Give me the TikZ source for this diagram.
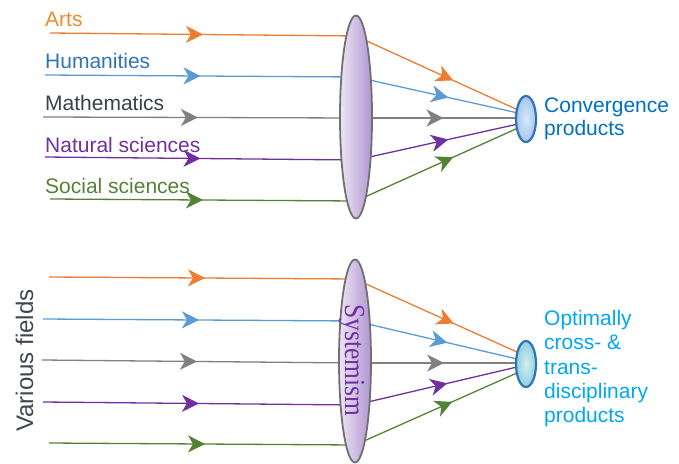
\documentclass[tikz,border=0pt]{standalone}
\usepackage{fontspec}
\setmainfont{Liberation Sans}
\newfontfamily\serifsys{Liberation Serif}
\usetikzlibrary{shapes.geometric,arrows.meta,decorations.markings}
\definecolor{cOr}{HTML}{ED7D31}
\definecolor{cBl}{HTML}{5B9BD5}
\definecolor{cGr}{HTML}{808080}
\definecolor{cPu}{HTML}{7030A0}
\definecolor{cGn}{HTML}{548235}
\definecolor{tArtsC}{HTML}{F08A2C}
\definecolor{tHumC}{HTML}{2E75B6}
\definecolor{tMathC}{HTML}{3B3F48}
\definecolor{tConv}{HTML}{0070C0}
\definecolor{tOpt}{HTML}{00A8EE}
\definecolor{tVar}{HTML}{3F4651}
\definecolor{lensL}{HTML}{EDE6F4}
\definecolor{lensR}{HTML}{B195D2}
\definecolor{lensEdge}{HTML}{707070}
\definecolor{smallEdge}{HTML}{2E75B6}
\definecolor{focusInA}{HTML}{D8E8FB}
\definecolor{focusOutA}{HTML}{A6C6EE}
\definecolor{focusInB}{HTML}{D2EFF3}
\definecolor{focusOutB}{HTML}{8ECFDD}
\tikzset{
  ray/.style={line width=1.3pt, postaction=decorate,
    decoration={markings, mark=at position #1 with {\arrow{Stealth[length=17pt,width=17pt,inset=5pt]}}}},
  lbl/.style={font=\fontsize{21}{23}\selectfont, inner sep=0pt, anchor=base west},
  biglens/.style={ellipse, minimum width=32pt, minimum height=203pt, inner sep=0pt,
    draw=lensEdge, line width=1.8pt, left color=lensL, right color=lensR},
  smalllens/.style={ellipse, minimum width=20pt, minimum height=46pt, inner sep=0pt,
    draw=smallEdge, line width=2.2pt},
}
\begin{document}
\begin{tikzpicture}[x=1pt,y=-1pt]
\useasboundingbox (0,0) rectangle (679,463);
% ---------- top ----------
\node[lbl, text=tArtsC] (tArts) at (45,26) {Arts};
\node[lbl, text=tHumC] (tHum) at (45,68) {Humanities};
\node[lbl, text=tMathC] (tMath) at (45,110) {Mathematics};
\node[lbl, text=cPu] (tNat) at (45,152) {Natural sciences};
\node[lbl, text=cGn] (tSoc) at (45,193) {Social sciences};

\coordinate (a1) at (50,33);  \coordinate (m1) at (356,36);  \coordinate (e1) at (518,110);
\coordinate (a2) at (45,75);  \coordinate (m2) at (356,77);  \coordinate (e2) at (518,113);
\coordinate (a3) at (43,117); \coordinate (m3) at (356,118); \coordinate (e3) at (518,118);
\coordinate (a4) at (45,157); \coordinate (m4) at (356,160); \coordinate (e4) at (518,124);
\coordinate (a5) at (50,199); \coordinate (m5) at (356,201); \coordinate (e5) at (518,128);

\draw[ray=0.5, cOr] (a1) -- (m1);
\draw[ray=0.5, cBl] (a2) -- (m2);
\draw[ray=0.495, cGr] (a3) -- (m3);
\draw[ray=0.5, cPu] (a4) -- (m4);
\draw[ray=0.5, cGn] (a5) -- (m5);
\draw[ray=0.6, cOr] (m1) -- (e1);
\draw[ray=0.57, cBl] (m2) -- (e2);
\draw[ray=0.54, cGr] (m3) -- (e3);
\draw[ray=0.57, cPu] (m4) -- (e4);
\draw[ray=0.6, cGn] (m5) -- (e5);

\node[biglens] (lens1) at (356,117) {};
\node[smalllens, inner color=focusInA, outer color=focusOutA] (focus1) at (526,119) {};
\node[font=\fontsize{21}{23}\selectfont, text=tConv, inner sep=0pt, anchor=north west, align=left] (conv) at (544,98) {Convergence\\products};

% ---------- bottom ----------
\node[font=\fontsize{24}{26}\selectfont, text=tVar, inner sep=0pt, anchor=base west, rotate=90] (var) at (33,432) {Various fields};

\coordinate (b1) at (49,277); \coordinate (n1) at (355,279); \coordinate (f1) at (517,352);
\coordinate (b2) at (43,319); \coordinate (n2) at (355,321); \coordinate (f2) at (517,359);
\coordinate (b3) at (42,360); \coordinate (n3) at (355,363); \coordinate (f3) at (517,363);
\coordinate (b4) at (43,402); \coordinate (n4) at (355,405); \coordinate (f4) at (517,367);
\coordinate (b5) at (49,443); \coordinate (n5) at (355,445); \coordinate (f5) at (517,373);

\draw[ray=0.51, cOr] (b1) -- (n1);
\draw[ray=0.5, cBl] (b2) -- (n2);
\draw[ray=0.495, cGr] (b3) -- (n3);
\draw[ray=0.5, cPu] (b4) -- (n4);
\draw[ray=0.51, cGn] (b5) -- (n5);
\draw[ray=0.61, cOr] (n1) -- (f1);
\draw[ray=0.57, cBl] (n2) -- (f2);
\draw[ray=0.55, cGr] (n3) -- (f3);
\draw[ray=0.57, cPu] (n4) -- (f4);
\draw[ray=0.6, cGn] (n5) -- (f5);

\node[biglens] (lens2) at (355,361) {};
\node[font=\serifsys\fontsize{29}{30}\selectfont, text=cPu, inner sep=0pt, anchor=base, rotate=-90] (sys) at (345,360.5) {\scalebox{0.88}[1]{Systemism}};
\node[smalllens, inner color=focusInB, outer color=focusOutB] (focus2) at (526,364) {};
\node[font=\fontsize{21}{24.3}\selectfont, text=tOpt, inner sep=0pt, anchor=north west, align=left] (opt) at (544,310) {Optimally\\cross- \&\\trans-\\disciplinary\\products};
\end{tikzpicture}
\end{document}
